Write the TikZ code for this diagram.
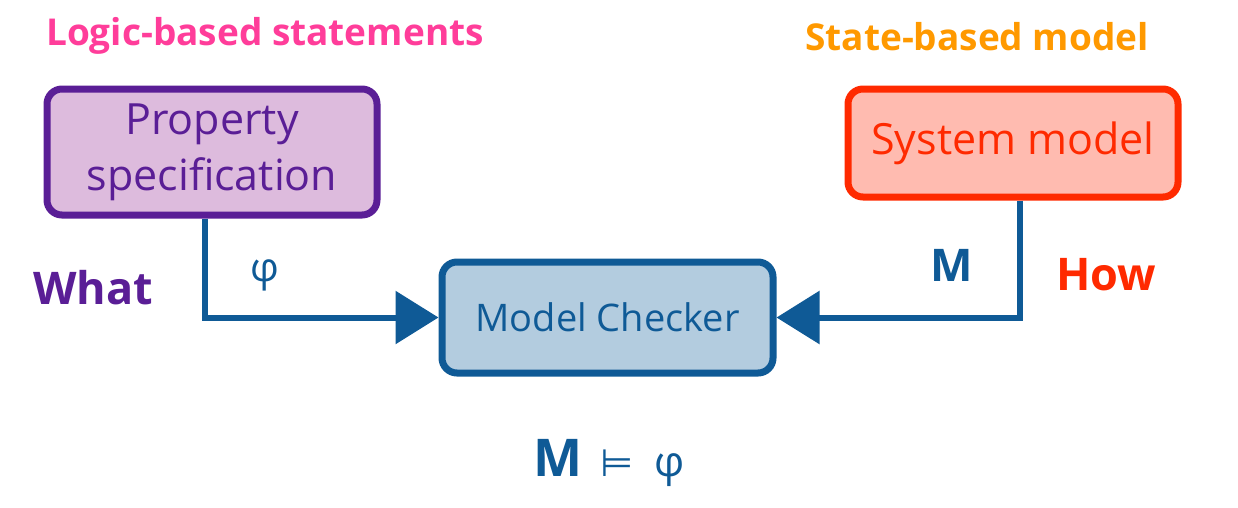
\documentclass[tikz,border=0pt]{standalone}
\usepackage{fontspec}
\setmainfont{Open Sans}
\newfontfamily\symfont{DejaVu Sans}
\usetikzlibrary{arrows.meta,decorations.pathmorphing}
\definecolor{cpink}{HTML}{FF3D9A}
\definecolor{corange}{HTML}{FF9900}
\definecolor{cpurple}{HTML}{5A1E96}
\definecolor{cpfill}{HTML}{DDBBDD}
\definecolor{cred}{HTML}{FF2A00}
\definecolor{crfill}{HTML}{FFBBB0}
\definecolor{cblue}{HTML}{0F5A96}
\definecolor{cbfill}{HTML}{B3CCDF}
\tikzset{
  box/.style={rounded corners=15pt, line width=7pt, inner sep=0pt, align=center},
  conn/.style={line width=6pt, draw=cblue, -{Triangle[length=43pt,width=52pt]}},
  title/.style={font=\fontsize{37}{42}\selectfont\bfseries},
  lbl/.style={font=\fontsize{45}{48}\selectfont\bfseries},
}
\begin{document}
\begin{tikzpicture}[x=1pt,y=-1pt]
\useasboundingbox (0,0) rectangle (1238,507);
\node[title, text=cpink] (t1) at (265,36) {Logic-based statements};
\node[title, text=corange] (t2) at (977,37) {State-based model};
\node[box, draw=cpurple, fill=cpfill, text=cpurple, minimum width=330pt, minimum height=126pt,
  font=\fontsize{43}{56}\selectfont] (prop) at (212,152) {Property\\specification};
\node[box, draw=cred, fill=crfill, text=cred, minimum width=330pt, minimum height=108pt,
  font=\fontsize{43}{48}\selectfont] (sys) at (1013,143) {System model};
\node[box, draw=cblue, fill=cbfill, text=cblue, minimum width=331pt, minimum height=111pt,
  font=\fontsize{38}{42}\selectfont] (mc) at (607.5,317.5) {Model Checker};
\draw[conn] ([xshift=-7pt]prop.south) |- (mc.west);
\draw[conn] ([xshift=7pt]sys.south) |- (mc.east);
\node[lbl, text=cpurple] (what) at (93,288) {What};
\node[lbl, text=cred] (how) at (1106,275) {How};
\node[font=\fontsize{40}{44}\selectfont, text=cblue] (phi) at (265,275) {φ};
\node[lbl, text=cblue] (m) at (952,265) {M};
\node[text=cblue, font=\fontsize{42}{44}\selectfont] (res) at (609,463) {{\fontsize{52}{56}\selectfont\bfseries M}\hspace{18pt}{\symfont\fontsize{38}{40}\selectfont ⊨}\hspace{20pt}φ};
\end{tikzpicture}
\end{document}
